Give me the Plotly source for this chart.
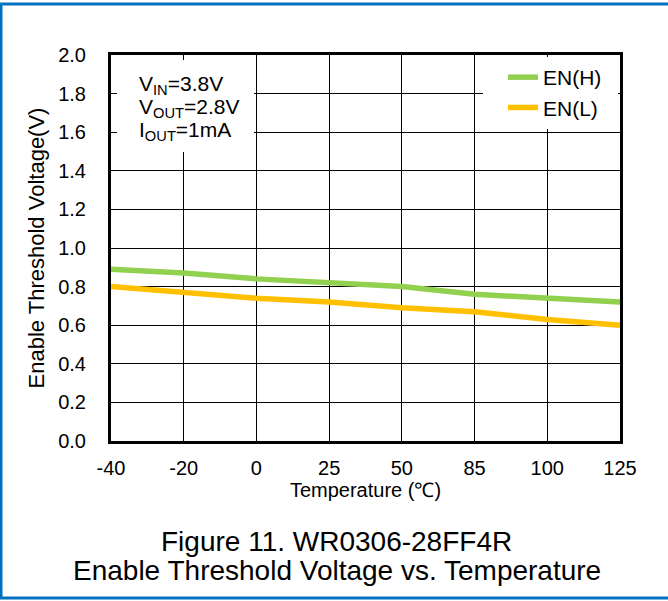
import plotly.graph_objects as go

temps = ["-40", "-20", "0", "25", "50", "85", "100", "125"]
en_h = [0.89, 0.87, 0.84, 0.82, 0.80, 0.76, 0.74, 0.72]
en_l = [0.80, 0.77, 0.74, 0.72, 0.69, 0.67, 0.63, 0.60]
y_ticks = [0.0, 0.2, 0.4, 0.6, 0.8, 1.0, 1.2, 1.4, 1.6, 1.8, 2.0]
cond_lines = ["V<sub>IN</sub>=3.8V", "V<sub>OUT</sub>=2.8V", "I<sub>OUT</sub>=1mA"]

W, H = 668, 601
L, R, T, B = 111, 620, 55, 441

def px(x):
    return (x - L) / (R - L)

def py(y):
    return (B - y) / (B - T)

idx = list(range(len(temps)))
font = "Liberation Sans, Arial, sans-serif"
FS = 21

fig = go.Figure()
fig.add_trace(go.Scatter(x=idx, y=en_h, mode="lines", name="EN(H)", legendgroup="h",
                         line=dict(color="#92D050", width=5.5)))
fig.add_trace(go.Scatter(x=idx, y=en_l, mode="lines", name="EN(L)", legendgroup="l",
                         line=dict(color="#FFC000", width=5.5)))

fig.update_layout(
    width=W, height=H,
    margin=dict(l=L, r=W - R, t=T, b=H - B),
    paper_bgcolor="white", plot_bgcolor="white",
    font=dict(family=font, size=FS, color="black"),
    showlegend=True,
    legend=dict(x=px(503), y=py(57), xanchor="left", yanchor="top",
                bgcolor="white", font=dict(size=FS), tracegroupgap=0,
                itemwidth=30),
    xaxis=dict(range=[0, len(temps) - 1], tickmode="array", tickvals=idx,
               ticktext=temps, showgrid=True, gridcolor="black", gridwidth=1,
               zeroline=False, showline=True, linecolor="black", linewidth=3,
               mirror=True, ticks="", tickfont=dict(size=20), ticklabelstandoff=7,
               title=dict(text="Temperature (℃)", font=dict(size=20), standoff=2)),
    yaxis=dict(range=[0, 2.0], tickmode="array", tickvals=y_ticks,
               ticktext=[f"{v:.1f}" for v in y_ticks], showgrid=True,
               gridcolor="black", gridwidth=1, zeroline=False, showline=True,
               linecolor="black", linewidth=3, mirror=True, ticks="",
               tickfont=dict(size=20), ticklabelstandoff=18,
               title=dict(text="Enable Threshold Voltage(V)", font=dict(size=22), standoff=8)),
)

# white box behind condition text
fig.add_shape(type="rect", xref="paper", yref="paper", x0=px(117), x1=px(254),
              y0=py(152), y1=py(60), fillcolor="white", line=dict(width=0), layer="above")
# white box behind legend area
fig.add_shape(type="rect", xref="paper", yref="paper", x0=px(483), x1=px(618),
              y0=py(129), y1=py(59), fillcolor="white", line=dict(width=0), layer="above")
for i, t in enumerate(cond_lines):
    fig.add_annotation(xref="paper", yref="paper", x=px(137), y=py(85 + 23 * i),
                       xanchor="left", yanchor="middle", align="left", showarrow=False,
                       text=t, font=dict(size=FS))

fig.add_annotation(xref="paper", yref="paper", x=px(336), y=py(541),
                   xanchor="center", yanchor="middle", showarrow=False,
                   text="Figure 11. WR0306-28FF4R", font=dict(size=28))
fig.add_annotation(xref="paper", yref="paper", x=px(337), y=py(570),
                   xanchor="center", yanchor="middle", showarrow=False,
                   text="Enable Threshold Voltage vs. Temperature", font=dict(size=28))

blue = "#0070C0"
fig.add_shape(type="line", xref="paper", yref="paper", x0=px(1), x1=px(1),
              y0=py(4), y1=py(598), line=dict(color=blue, width=3))
fig.add_shape(type="line", xref="paper", yref="paper", x0=px(0), x1=px(668),
              y0=py(4), y1=py(4), line=dict(color=blue, width=3))
fig.add_shape(type="line", xref="paper", yref="paper", x0=px(0), x1=px(668),
              y0=py(598), y1=py(598), line=dict(color=blue, width=3))

fig.write_html("out.html")
